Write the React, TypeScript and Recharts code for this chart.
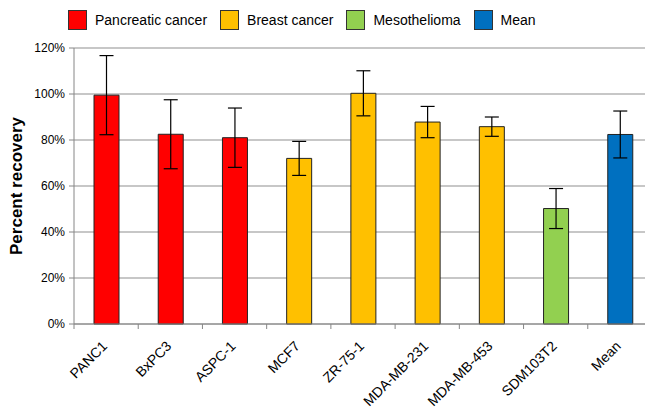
import React from 'react';
import { BarChart, Bar, Cell, XAxis, YAxis, CartesianGrid, ErrorBar } from 'recharts';

const cellLines = ['PANC1', 'BxPC3', 'ASPC-1', 'MCF7', 'ZR-75-1', 'MDA-MB-231', 'MDA-MB-453', 'SDM103T2', 'Mean'];
const recovery = [99.5, 82.5, 81, 72, 100.3, 87.8, 85.8, 50.2, 82.4];
const recoveryErr = [17.2, 15, 12.9, 7.4, 9.8, 6.8, 4.2, 8.7, 10.2];
const cellGroup = [0, 0, 0, 1, 1, 1, 1, 2, 3];

const groupNames = ['Pancreatic cancer', 'Breast cancer', 'Mesothelioma', 'Mean'];
const groupColors = ['#FF0000', '#FFC000', '#92D050', '#0070C0'];
const yTicks = [0, 20, 40, 60, 80, 100, 120];

const data = cellLines.map((name, i) => ({ name, value: recovery[i], err: recoveryErr[i], group: cellGroup[i] }));

const FONT = '"Liberation Sans", Arial, sans-serif';

const CategoryTick = (props: any) => {
  const { x, y, payload, width } = props;
  const half = width / cellLines.length / 2;
  return (
    <g>
      <line x1={x - half} y1={y - 8} x2={x - half} y2={y - 3} stroke="#868686" />
      <text
        x={x + 2}
        y={y + 15}
        transform={`rotate(-45, ${x + 2}, ${y + 15})`}
        textAnchor="end"
        fontSize={14}
        fontFamily={FONT}
        fill="#000"
      >
        {payload.value}
      </text>
    </g>
  );
};

const App: React.FC = () => {
  return (
    <div style={{ position: 'absolute', left: 0, top: 0, width: 645, height: 412, overflow: 'hidden', background: '#fff' }}>
      <div style={{ position: 'absolute', left: 68, top: 10, display: 'flex', alignItems: 'center', fontFamily: FONT, fontSize: 14 }}>
        {groupNames.map((g, i) => (
          <div key={g} style={{ display: 'flex', alignItems: 'center', marginRight: 13 }}>
            <div style={{ width: 17, height: 18, background: groupColors[i], border: '1px solid #333', marginRight: 8 }} />
            <span>{g}</span>
          </div>
        ))}
      </div>
      <BarChart width={660} height={412} data={data} margin={{ top: 48, right: 8, bottom: 0, left: 0 }} barCategoryGap="30%">
        <CartesianGrid vertical={false} stroke="#b4b4b4" strokeWidth={1.5} />
        <XAxis
          dataKey="name"
          interval={0}
          tickLine={false}
          axisLine={{ stroke: '#868686' }}
          tick={<CategoryTick />}
          height={88}
        />
        <YAxis
          domain={[0, 120]}
          ticks={yTicks}
          width={74}
          tickFormatter={(v) => `${v}%`}
          tick={{ fontSize: 12, fill: '#000', fontFamily: FONT }}
          tickSize={5}
          tickMargin={4}
          axisLine={{ stroke: '#868686' }}
          tickLine={{ stroke: '#868686' }}
          label={{
            value: 'Percent recovery',
            angle: -90,
            position: 'insideLeft',
            offset: 16,
            style: { fontSize: 17, fontWeight: 'bold', fill: '#000', fontFamily: FONT, textAnchor: 'middle' },
          }}
        />
        <Bar dataKey="value" barSize={25} stroke="#222" strokeWidth={1} isAnimationActive={false}>
          {data.map((d, i) => (
            <Cell key={i} fill={groupColors[d.group]} />
          ))}
          <ErrorBar dataKey="err" width={7} stroke="#000" strokeWidth={1.2} />
        </Bar>
      </BarChart>
    </div>
  );
};

export default App;
